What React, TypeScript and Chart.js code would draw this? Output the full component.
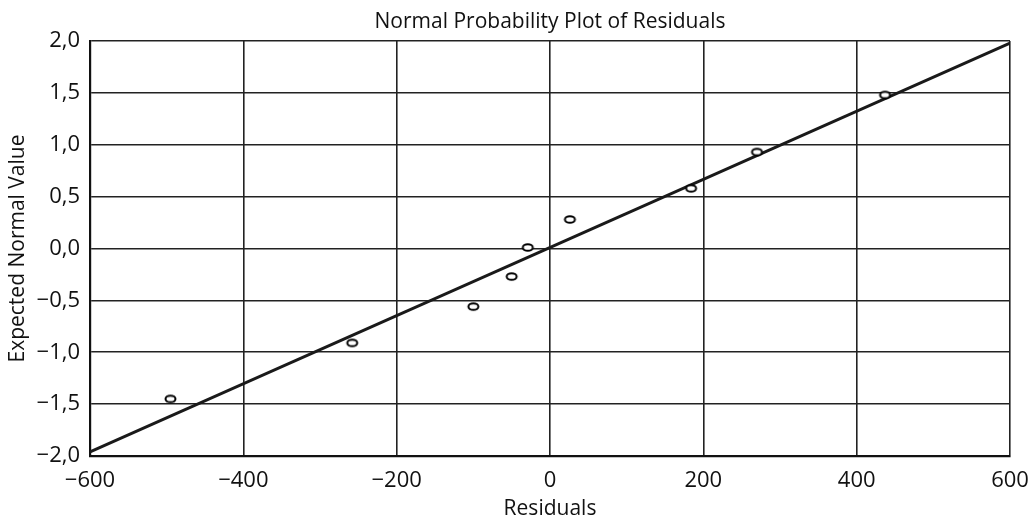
import React, { useEffect, useRef } from "react";
import { Chart, registerables } from "chart.js";

Chart.register(...registerables);

const residuals = [-495, -258, -100, -50, -29, 26, 184, 270, 437];
const expectedNormal = [-1.45, -0.91, -0.56, -0.27, 0.01, 0.28, 0.58, 0.93, 1.48];
const fitX = [-600, 600];
const fitY = [-1.96, 1.98];
const xTicks = [-600, -400, -200, 0, 200, 400, 600];
const yTicks = [-2, -1.5, -1, -0.5, 0, 0.5, 1, 1.5, 2];

const FONT = "'Open Sans', 'Noto Sans', sans-serif";

function makeEllipse(): HTMLCanvasElement {
  const c = document.createElement("canvas");
  c.width = 15;
  c.height = 11;
  const g = c.getContext("2d")!;
  g.beginPath();
  g.ellipse(7.5, 5.5, 5, 3.3, 0, 0, Math.PI * 2);
  g.fillStyle = "#fff";
  g.fill();
  g.lineWidth = 2;
  g.strokeStyle = "#000";
  g.stroke();
  return c;
}

function fmt(v: number, digits: number): string {
  const s = Math.abs(v).toFixed(digits).replace(".", ",");
  return v < 0 ? "\u2212" + s : s;
}

export default function App() {
  const ref = useRef<HTMLCanvasElement>(null);
  useEffect(() => {
    if (!ref.current) return;
    const chart = new Chart(ref.current, {
      type: "scatter",
      data: {
        datasets: [
          {
            type: "line",
            data: fitX.map((x, i) => ({ x, y: fitY[i] })),
            borderColor: "#1a1a1a",
            borderWidth: 3,
            pointRadius: 0,
            fill: false,
            order: 2,
          },
          {
            type: "scatter",
            data: residuals.map((x, i) => ({ x, y: expectedNormal[i] })),
            pointStyle: makeEllipse() as any,
            order: 1,
          },
        ],
      } as any,
      options: {
        animation: false,
        responsive: false,
        devicePixelRatio: 1,
        layout: { padding: { left: 0, right: 20, top: 0, bottom: 0 } },
        plugins: {
          legend: { display: false },
          tooltip: { enabled: false },
          title: { display: false },
        },
        scales: {
          top: {
            type: "linear",
            position: "top",
            min: -600,
            max: 600,
            afterFit: (s: any) => {
              s.height = 41;
              s.paddingLeft = 0;
              s.paddingRight = 0;
            },
            ticks: { display: false },
            grid: { display: false, drawTicks: false },
            border: { display: false },
            title: {
              display: true,
              text: "Normal Probability Plot of Residuals",
              color: "#111",
              font: { family: FONT, size: 21, weight: "normal" },
              padding: { top: 9, bottom: 0 },
            },
          },
          x: {
            type: "linear",
            position: "bottom",
            min: -600,
            max: 600,
            afterBuildTicks: (s: any) => {
              s.ticks = xTicks.map((v) => ({ value: v }));
            },
            afterFit: (s: any) => {
              s.height = 63;
              s.paddingLeft = 0;
              s.paddingRight = 0;
            },
            ticks: {
              color: "#111",
              font: { family: FONT, size: 22 },
              padding: 12,
              maxRotation: 0,
              callback: (v: any) => fmt(Number(v), 0),
            },
            grid: { color: "#222", lineWidth: 1.6, drawTicks: false },
            border: { color: "#111", width: 2.2 },
            title: {
              display: true,
              text: "Residuals",
              color: "#111",
              font: { family: FONT, size: 21 },
              padding: { top: 0, bottom: -3 },
            },
          },
          y: {
            type: "linear",
            min: -2,
            max: 2,
            afterBuildTicks: (s: any) => {
              s.ticks = yTicks.map((v) => ({ value: v }));
            },
            afterFit: (s: any) => {
              s.width = 90;
            },
            ticks: {
              color: "#111",
              font: { family: FONT, size: 22 },
              padding: 10,
              callback: (v: any) => fmt(Number(v), 1),
            },
            grid: { color: "#222", lineWidth: 1.6, drawTicks: false },
            border: { color: "#111", width: 2.2 },
            title: {
              display: true,
              text: "Expected Normal Value",
              color: "#111",
              font: { family: FONT, size: 21 },
              padding: { top: 5.5, bottom: 4 },
            },
          },
        },
      } as any,
    });
    return () => chart.destroy();
  }, []);
  return (
    <div style={{ position: "fixed", left: 0, top: 0, width: 1030, height: 519, background: "#fff" }}>
      <canvas ref={ref} width={1030} height={519} style={{ display: "block" }} />
    </div>
  );
}
